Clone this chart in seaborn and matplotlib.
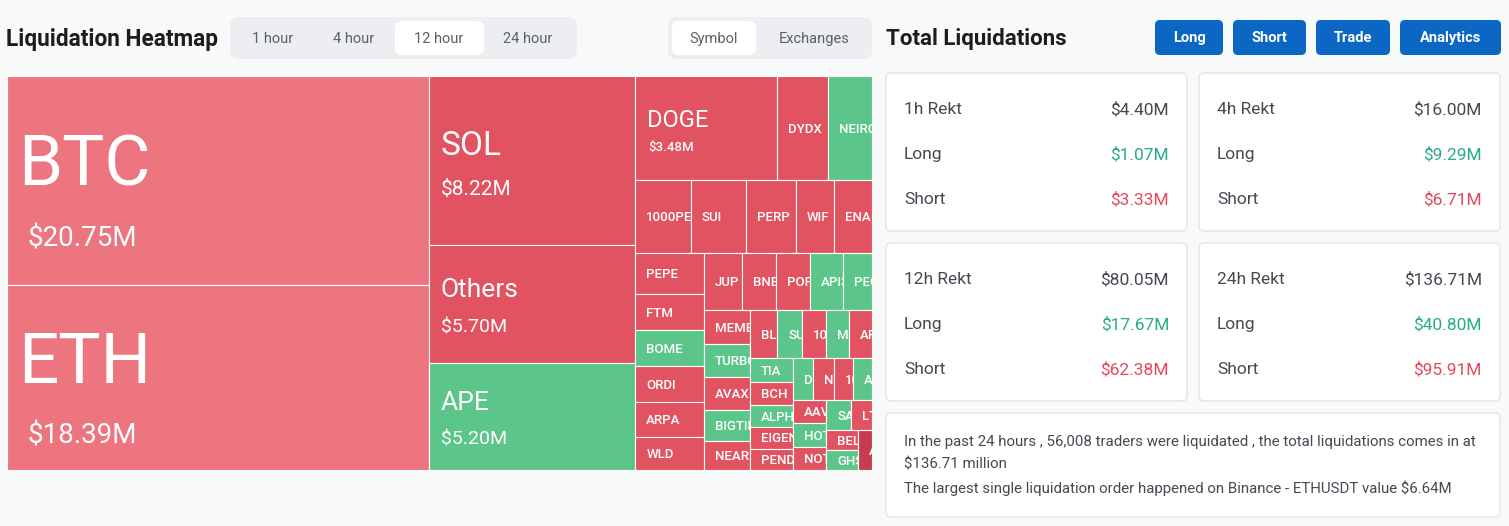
import matplotlib
matplotlib.use("Agg")
import matplotlib.pyplot as plt
from matplotlib.patches import Rectangle, FancyBboxPatch
import seaborn as sns

# ---- data (12 hour liquidations, $M) ----
symbols = ["BTC", "ETH", "SOL", "Others", "APE", "DOGE", "DYDX", "NEIRO",
           "1000PEPE", "SUI", "PERP", "WIF", "ENA",
           "PEPE", "FTM", "BOME", "ORDI", "ARPA", "WLD",
           "JUP", "BNB", "POPCAT", "API3", "PEOPLE",
           "MEME", "TURBO", "AVAX", "BIGTIME", "NEAR",
           "BLUR", "SUSHI", "1000SATS", "MEW", "AR",
           "TIA", "BCH", "ALPHA", "EIGEN", "PENDLE",
           "DOGS", "NEO", "1000BONK", "ADA",
           "AAVE", "HOT", "NOT", "SAND", "LTC", "BEL", "GHST", "ATOM"]
liq_musd = [20.75, 18.39, 8.22, 5.70, 5.20, 3.48, 1.25, 1.08,
            0.95, 0.94, 0.86, 0.66, 0.65,
            0.65, 0.59, 0.585, 0.58, 0.55, 0.54,
            0.50, 0.46, 0.45, 0.44, 0.38,
            0.375, 0.36, 0.355, 0.335, 0.315,
            0.31, 0.28, 0.278, 0.268, 0.26,
            0.245, 0.226, 0.224, 0.218, 0.217,
            0.20, 0.195, 0.19, 0.185,
            0.185, 0.183, 0.18, 0.178, 0.155, 0.15, 0.148, 0.13]
# m = mixed, s = short heavy, l = long heavy, x = extreme
bias = ["m", "m", "s", "s", "l", "s", "s", "l",
        "s", "s", "s", "s", "s",
        "s", "s", "l", "s", "s", "s",
        "s", "s", "s", "l", "l",
        "s", "l", "s", "l", "s",
        "s", "l", "s", "l", "s",
        "l", "s", "l", "s", "s",
        "l", "s", "s", "l",
        "s", "l", "s", "l", "s", "s", "l", "x"]

windows = ["1h", "4h", "12h", "24h"]
total_rekt = [4.40, 16.00, 80.05, 136.71]
long_rekt = [1.07, 9.29, 17.67, 40.80]
short_rekt = [3.33, 6.71, 62.38, 95.91]

time_tabs = ["1 hour", "4 hour", "12 hour", "24 hour"]
view_tabs = ["Symbol", "Exchanges"]
actions = ["Long", "Short", "Trade", "Analytics"]
summary_lines = [
    "In the past 24 hours , 56,008 traders were liquidated , the total liquidations comes in at",
    "$136.71 million",
    "The largest single liquidation order happened on Binance - ETHUSDT value $6.64M",
]

BG = "#f8f9f9"
TXT = "#444a52"
GREEN = "#2aab8a"
RED = "#e5485d"
BLUE = "#0b67c3"
CELL = {"m": "#ec7580", "s": "#e15361", "l": "#5bc58a", "x": "#c73d4f"}
PX = 100 / 72  # pixels per point


def squarify(values, width, height, ratio=0.5 * (1 + 5 ** 0.5)):
    """echarts-style squarified treemap, returns (x, y, w, h) per value"""
    total = sum(values)
    areas = [v * width * height / total for v in values]
    rect = {"x": 0.0, "y": 0.0, "w": float(width), "h": float(height)}
    boxes = []

    def worst(row, row_area, fixed):
        sq = row_area * row_area
        f = fixed * fixed * ratio
        return max(f * max(row) / sq, sq / (f * min(row)))

    def place(row, row_area, fixed, flush):
        horiz = fixed == rect["w"]
        other = row_area / fixed
        limit = rect["h"] if horiz else rect["w"]
        if flush or other > limit:
            other = limit
        last = rect["x"] if horiz else rect["y"]
        end = last + (rect["w"] if horiz else rect["h"])
        for k, a in enumerate(row):
            step = a / other
            remain = end - last
            size = remain if (k == len(row) - 1 or remain < step) else step
            if horiz:
                boxes.append((last, rect["y"], size, other))
            else:
                boxes.append((rect["x"], last, other, size))
            last += size
        if horiz:
            rect["y"] += other
            rect["h"] -= other
        else:
            rect["x"] += other
            rect["w"] -= other

    row, row_area = [], 0.0
    fixed = min(width, height)
    best = float("inf")
    i = 0
    while i < len(areas):
        row.append(areas[i])
        row_area += areas[i]
        score = worst(row, row_area, fixed)
        if score <= best:
            i += 1
            best = score
        else:
            row_area -= row.pop()
            place(row, row_area, fixed, False)
            fixed = min(rect["w"], rect["h"])
            row, row_area, best = [], 0.0, float("inf")
    if row:
        place(row, row_area, fixed, True)
    return boxes


def label_style(v):
    # name size, value size (pt), name/value offsets from cell centre, pads (px)
    if v > 15:
        return 51, 20, -20, 56, 11, 21
    if v > 7:
        return 24, 15, -18, 27, 11, 12
    if v > 4:
        return 19, 14, -16, 21, 11, 12
    if v > 3:
        return 17, 9.5, -9.5, 18.5, 12, 13
    return 9.5, None, 0, 0, 11, 0


sns.set_theme(style="white")
plt.rcParams["font.family"] = ["Roboto", "DejaVu Sans"]

fig = plt.figure(figsize=(15.09, 5.26), dpi=100, facecolor=BG)
ui = fig.add_axes([0, 0, 1, 1])
ui.set_xlim(0, 1509)
ui.set_ylim(526, 0)
ui.axis("off")


def rbox(x, y, w, h, fc, ec="none", r=6, lw=1.0):
    ui.add_patch(FancyBboxPatch((x, y), w, h, boxstyle=f"round,pad=0,rounding_size={r}",
                                fc=fc, ec=ec, lw=lw))


# ---- header left ----
ui.text(6, 46, "Liquidation Heatmap", fontsize=16.3, fontweight="bold",
        color="#1b1d21", va="baseline")
rbox(230, 17, 347, 42, "#eceef1", r=9)
rbox(395, 21, 89, 34, "white", r=7)
for lab, cx in zip(time_tabs, [273, 354, 439, 528]):
    ui.text(cx, 39, lab, fontsize=10.5, color="#5a6068", ha="center", va="center")
rbox(668, 17, 204, 42, "#eceef1", r=9)
rbox(672, 21, 84, 34, "white", r=7)
for lab, cx in zip(view_tabs, [714, 814]):
    ui.text(cx, 39, lab, fontsize=10.5, color="#5a6068", ha="center", va="center")

# ---- treemap ----
TM_W, TM_H = 865, 394
tm = fig.add_axes([7 / 1509, 1 - 470 / 526, TM_W / 1509, TM_H / 526])
tm.set_xlim(0, TM_W)
tm.set_ylim(TM_H, 0)
tm.axis("off")

order = sorted(range(len(liq_musd)), key=lambda k: -liq_musd[k])
vals = [liq_musd[k] for k in order]
boxes = squarify(vals, TM_W, TM_H)
for k, (x, y, w, h) in zip(order, boxes):
    cell = Rectangle((x, y), w, h, fc=CELL[bias[k]], ec="white", lw=0.8)
    tm.add_patch(cell)
    ns, vs, dn, dv, pn, pv = label_style(liq_musd[k])
    cy = y + h / 2
    if vs is None:
        t = tm.text(x + pn, cy + 0.355 * ns * PX, symbols[k], fontsize=ns,
                    fontweight="medium", color="white", va="baseline", clip_on=True)
        t.set_clip_path(cell)
    else:
        t = tm.text(x + pn, cy + dn + 0.355 * ns * PX, symbols[k], fontsize=ns,
                    color="white", va="baseline", clip_on=True)
        t.set_clip_path(cell)
        t = tm.text(x + pv, cy + dv + 0.355 * vs * PX, f"${liq_musd[k]:.2f}M",
                    fontsize=vs, color="white", va="baseline", clip_on=True,
                    fontweight="medium" if vs < 12 else "normal")
        t.set_clip_path(cell)

# ---- right panel ----
ui.text(886, 45, "Total Liquidations", fontsize=16, fontweight="bold",
        color="#1b1d21", va="baseline")
for lab, (bx, bw) in zip(actions, [(1155, 68), (1233, 73), (1316, 74), (1400, 101)]):
    rbox(bx, 20, bw, 35, BLUE, r=5)
    ui.text(bx + bw / 2, 38, lab, fontsize=10.5, fontweight="bold", color="white",
            ha="center", va="center")

for k, w in enumerate(windows):
    cx = 886 + (k % 2) * 313
    cy = 73 + (k // 2) * 170
    rbox(cx, cy, 301, 158, "white", ec="#e2e4e7", r=5)
    rows = [(f"{w} Rekt", total_rekt[k], TXT), ("Long", long_rekt[k], GREEN),
            ("Short", short_rekt[k], RED)]
    for j, (lab, val, col) in enumerate(rows):
        yy = cy + 37 + 45 * j
        ui.text(cx + 18, yy, lab, fontsize=12.5, color=TXT, va="center")
        ui.text(cx + 283, yy, f"${val:.2f}M", fontsize=12.5, color=col,
                ha="right", va="center")

rbox(886, 413, 614, 104, "white", ec="#e2e4e7", r=5)
for j, line in enumerate(summary_lines):
    ui.text(904, 442 + 23 * j, line, fontsize=10.8, color=TXT, va="center")

fig.savefig("out.png", dpi=100, facecolor=BG)
